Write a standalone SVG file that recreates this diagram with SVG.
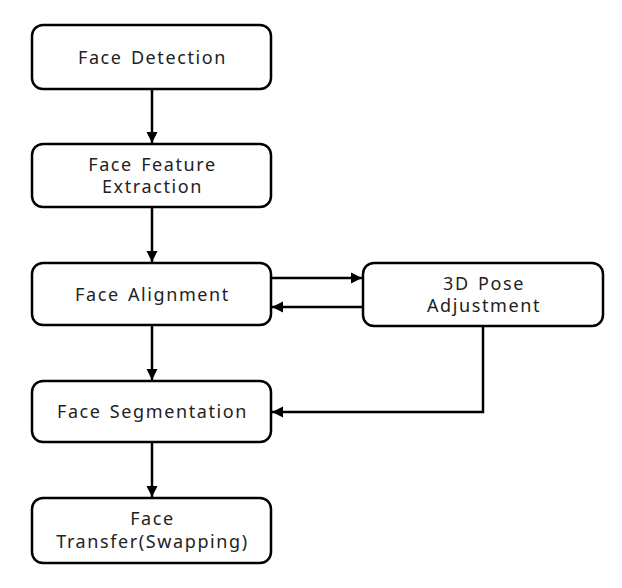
<svg xmlns="http://www.w3.org/2000/svg" width="622" height="588" viewBox="0 0 622 588">
<defs>
<marker id="ah" markerWidth="12" markerHeight="12" refX="11" refY="6" orient="auto" markerUnits="userSpaceOnUse">
<path d="M0,0.5 L11,6 L0,11.5 z" fill="#000"/>
</marker>
<style>
.box{fill:#fff;stroke:#000;stroke-width:2.5}
.t{font-family:"Noto Sans","Open Sans","DejaVu Sans",sans-serif;font-size:18px;letter-spacing:1.6px;word-spacing:2px;fill:#222;text-anchor:middle}
.c{fill:none;stroke:#000;stroke-width:2.5;marker-end:url(#ah)}
</style>
</defs>
<rect width="622" height="588" fill="#fff"/>
<g id="face-detection"><rect class="box" x="32" y="25" width="239" height="64" rx="11"/><text class="t" x="152.5" y="64">Face Detection</text></g>
<g id="face-feature-extraction"><rect class="box" x="32" y="144" width="239" height="63" rx="11"/><text class="t" x="152.5" y="171">Face Feature</text><text class="t" x="152.5" y="193">Extraction</text></g>
<g id="face-alignment"><rect class="box" x="32" y="263" width="239" height="62" rx="11"/><text class="t" x="152.5" y="301">Face Alignment</text></g>
<g id="pose-adjustment"><rect class="box" x="363" y="263" width="240" height="63" rx="11"/><text class="t" x="484" y="290">3D Pose</text><text class="t" x="484" y="312">Adjustment</text></g>
<g id="face-segmentation"><rect class="box" x="32" y="381" width="239" height="61" rx="11"/><text class="t" x="152.5" y="418">Face Segmentation</text></g>
<g id="face-transfer"><rect class="box" x="32" y="498" width="239" height="65" rx="11"/><text class="t" x="152.5" y="525">Face</text><text class="t" x="152.5" y="548">Transfer(Swapping)</text></g>
<g id="connectors">
<line class="c" x1="152" y1="89" x2="152" y2="143"/>
<line class="c" x1="152" y1="207" x2="152" y2="262"/>
<line class="c" x1="152" y1="325" x2="152" y2="380"/>
<line class="c" x1="152" y1="442" x2="152" y2="497"/>
<line class="c" x1="271" y1="278" x2="362" y2="278"/>
<line class="c" x1="363" y1="307" x2="272" y2="307"/>
<polyline class="c" points="483,326 483,412 272,412"/>
</g>
</svg>
